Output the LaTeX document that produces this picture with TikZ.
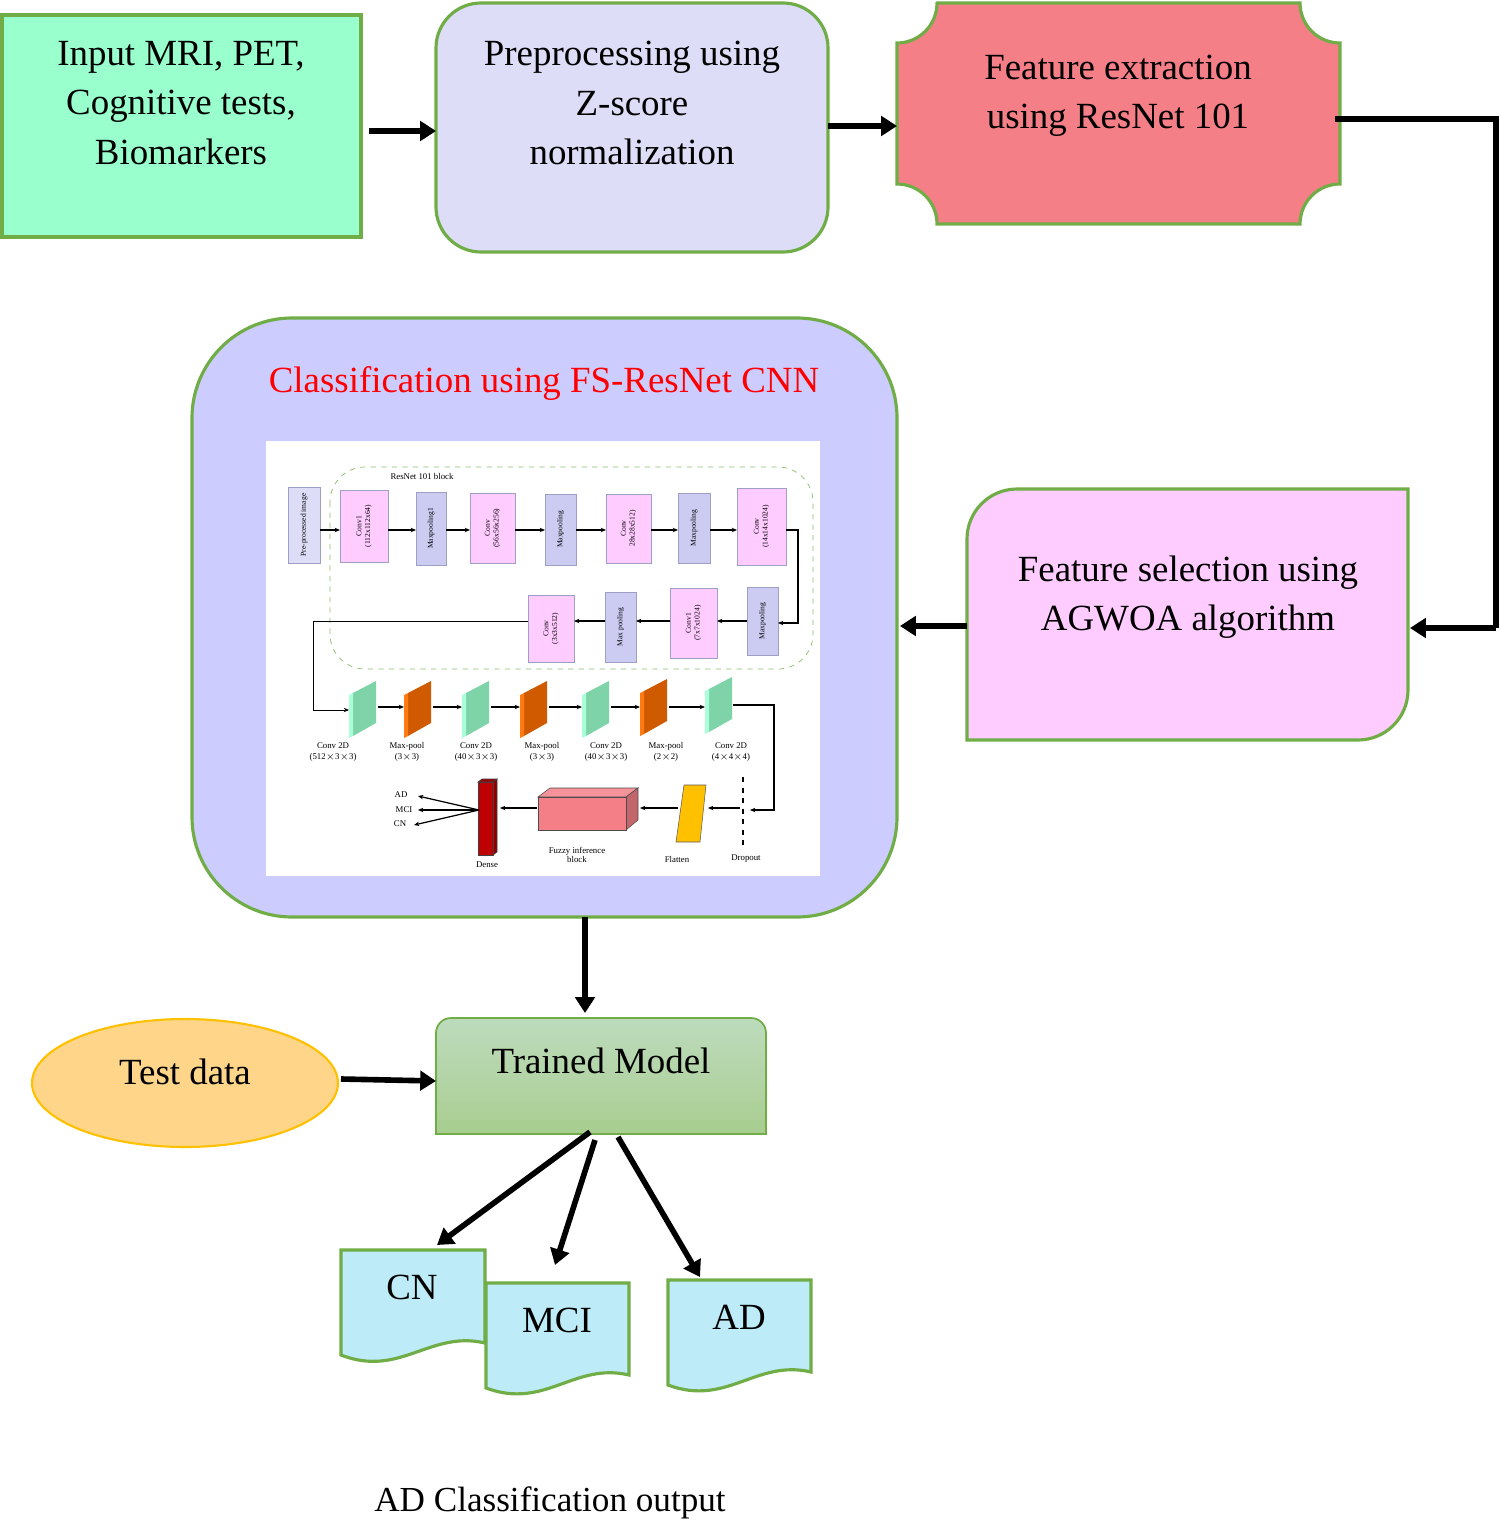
\documentclass[tikz,border=0pt]{standalone}
\usepackage{fontspec}
\setmainfont{Liberation Serif}
\usetikzlibrary{arrows.meta,shapes.geometric}
\definecolor{gb}{HTML}{70AD47}
\definecolor{inG}{HTML}{99FFCC}
\definecolor{lav}{HTML}{DDDDF7}
\definecolor{fext}{HTML}{F47F87}
\definecolor{fsel}{HTML}{FFCCFF}
\definecolor{cls}{HTML}{CCCCFF}
\definecolor{doc}{HTML}{BDEBF8}
\definecolor{ibpink}{HTML}{FFCCFF}
\definecolor{iblav}{HTML}{CCCCF2}
\definecolor{pg}{HTML}{7ED3A8}
\definecolor{pgl}{HTML}{A8FFD8}
\definecolor{po}{HTML}{D05A00}
\definecolor{pol}{HTML}{FF7A10}
\definecolor{tst}{HTML}{FFD58A}
\definecolor{tstb}{HTML}{FFC000}
\tikzset{
 big/.style={draw=gb,line width=1.8pt},
 flow/.style={line width=3.2pt,-{Triangle[length=9pt,width=11pt]}},
 thin/.style={line width=0.7pt,-{Stealth[length=3pt,width=2.5pt]}},
 T/.style={font=\fontsize{21}{28}\selectfont,align=center},
 tiny/.style={font=\fontsize{4.3}{5}\selectfont,align=center},
}
\newcommand{\ibx}[7]{\fill[#6,draw=blue!25!gray!60,line width=0.4pt] (#2,#3) rectangle (#4,#5);
 \node[tiny,rotate=90] (#1) at ({(#2+#4)/2},{(#3+#5)/2}) {#7};}
\newcommand{\mypanel}[5]{% name, x, ytop, main, light
 \fill[#4] (#2+4,#3+12) -- (#2+27,#3) -- (#2+27,#3+42) -- (#2+4,#3+55) -- cycle;
 \fill[#5] (#2,#3+14) -- (#2+4,#3+12) -- (#2+4,#3+55) -- (#2,#3+57) -- cycle;}
\begin{document}
\begin{tikzpicture}[x=0.02cm,y=-0.02cm]
\useasboundingbox (0,0) rectangle (1500,1524);
% input
\draw[big,fill=inG] (2,15) rectangle (361,237);
\node[T] (inp) at (181,103) {Input MRI, PET,\\Cognitive tests,\\Biomarkers};
% preprocessing
\draw[big,fill=lav,rounded corners=0.9cm] (436,3) rectangle (828,252);
\node[T] (pre) at (632,103) {Preprocessing using\\Z-score\\normalization};
% feature extraction
\draw[big,fill=fext] (937,3) -- (1300,3) arc[start angle=180,end angle=270,radius=0.8cm]
 -- (1340,184) arc[start angle=90,end angle=180,radius=0.8cm]
 -- (937,224) arc[start angle=0,end angle=90,radius=0.8cm]
 -- (897,43) arc[start angle=270,end angle=360,radius=0.8cm] -- cycle;
\node[T] (fex) at (1118,96) {Feature extraction\\using ResNet 101};
% feature selection
\draw[big,fill=fsel] (967,740) -- (967,539) arc[start angle=180,end angle=90,radius=1cm]
 -- (1408,489) -- (1408,690) arc[start angle=0,end angle=-90,radius=1cm] -- cycle;
\node[T] (fsl) at (1188,597) {Feature selection using\\AGWOA algorithm};
% classification
\draw[big,fill=cls,rounded corners=2cm] (192,318) rectangle (897,917);
\node[font=\fontsize{21}{24}\selectfont,text=red] (ctt) at (544,383) {Classification using FS-ResNet CNN};
\fill[white] (266,441) rectangle (820,876);
% main arrows
\coordinate (a1) at (369,131); \coordinate (a2) at (436,131);
\coordinate (b1) at (828,126); \coordinate (b2) at (897,126);
\coordinate (c1) at (1335,119); \coordinate (c2) at (1496,119); \coordinate (c3) at (1496,628); \coordinate (c4) at (1410,628);
\coordinate (d1) at (967,626); \coordinate (d2) at (900,626);
\coordinate (e1) at (585,917); \coordinate (e2) at (585,1013);
\draw[flow] (a1) -- (a2);
\draw[flow] (b1) -- (b2);
\draw[flow,-] (c1) -- (c2) -- (c3);
\draw[flow] (c3) -- (c4);
\draw[flow] (d1) -- (d2);
\draw[flow] (e1) -- (e2);
% ===== inner diagram
\draw[gb!80,dashed,line width=0.4pt,rounded corners=0.7cm] (330,467) rectangle (813,669);
\node[tiny,font=\fontsize{5}{6}\selectfont] (rb) at (422,476) {ResNet 101 block};
\ibx{i0}{288}{487}{320}{563}{lav}{Pre-processed image}
\ibx{i1}{340}{490}{388}{562}{ibpink}{Conv1\\(112x112x64)}
\ibx{i2}{416}{492}{446}{565}{iblav}{Maxpooling1}
\ibx{i3}{470}{493}{515}{563}{ibpink}{Conv\\(56x56x256)}
\ibx{i4}{545}{494}{576}{565}{iblav}{Maxpooling}
\ibx{i5}{606}{494}{651}{563}{ibpink}{Conv\\28x28x512)}
\ibx{i6}{678}{493}{710}{563}{iblav}{Maxpooling}
\ibx{i7}{737}{488}{786}{565}{ibpink}{Conv\\(14x14x1024)}
\ibx{i8}{747}{587}{778}{655}{iblav}{Maxpooling}
\ibx{i9}{670}{588}{717}{658}{ibpink}{Conv1\\(7x7x1024)}
\ibx{i10}{605}{592}{636}{662}{iblav}{Max pooling}
\ibx{i11}{528}{595}{574}{662}{ibpink}{Conv\\(3x3x512)}
\draw[thin] (320,530) -- (340,530);
\draw[thin] (388,530) -- (416,530);
\draw[thin] (446,530) -- (470,530);
\draw[thin] (515,530) -- (545,530);
\draw[thin] (576,530) -- (606,530);
\draw[thin] (651,530) -- (678,530);
\draw[thin] (710,530) -- (737,530);
\draw[thin] (786,530) -- (798,530) -- (798,623) -- (778,623);
\draw[thin] (747,621) -- (717,621);
\draw[thin] (670,621) -- (636,621);
\draw[thin] (605,621) -- (574,621);
% panels
\mypanel{p1}{349}{681}{pg}{pgl}
\mypanel{p2}{404}{681}{po}{pol}
\mypanel{p3}{462}{681}{pg}{pgl}
\mypanel{p4}{520}{681}{po}{pol}
\mypanel{p5}{582}{681}{pg}{pgl}
\mypanel{p6}{640}{679}{po}{pol}
\mypanel{p7}{705}{677}{pg}{pgl}
\draw[line width=0.5pt,-{Stealth[length=3pt,width=2.5pt]}] (528,621) -- (313,621) -- (313,710) -- (349,710);
\draw[thin] (378,707) -- (404,707);
\draw[thin] (433,707) -- (462,707);
\draw[thin] (491,707) -- (520,707);
\draw[thin] (549,707) -- (582,707);
\draw[thin] (611,707) -- (640,707);
\draw[thin] (669,707) -- (705,707);
\draw[thin] (733,705) -- (774,705) -- (774,810) -- (750,810);
\foreach \x/\a/\b in {333/Conv 2D/(512$\times$3$\times$3),407/Max-pool/(3$\times$3),476/Conv 2D/(40$\times$3$\times$3),542/Max-pool/(3$\times$3),606/Conv 2D/(40$\times$3$\times$3),666/Max-pool/(2$\times$2),731/Conv 2D/(4$\times$4$\times$4)}
 \node[tiny,font=\fontsize{5}{6.3}\selectfont] at (\x,752) {\a\\\b};
% dropout
\draw[dashed,line width=0.6pt] (743,777) -- (743,845);
\node[tiny,font=\fontsize{5}{6}\selectfont] (dro) at (746,859) {Dropout};
% flatten
\draw[fill=tstb,draw=gray!70!black,line width=0.3pt] (684,785) -- (706,785) -- (700,842) -- (676,842) -- cycle;
\node[tiny,font=\fontsize{5}{6}\selectfont] (fla) at (677,859) {Flatten};
\draw[thin] (740,808) -- (708,808);
\draw[thin] (678,808) -- (640,808);
% fuzzy
\draw[fill=fext!85!white,draw=gray!60!black,line width=0.3pt] (538,797) -- (550,788) -- (638,788) -- (626,797) -- cycle;
\draw[fill=fext!80!black,draw=gray!60!black,line width=0.3pt] (626,797) -- (638,788) -- (638,820) -- (626,830) -- cycle;
\draw[fill=fext,draw=gray!60!black,line width=0.3pt] (538,797) rectangle (626,830);
\node[tiny,font=\fontsize{5}{5.5}\selectfont] (fuz) at (577,855) {Fuzzy inference\\block};
\draw[thin] (537,808) -- (500,808);
% dense
\draw[fill=red!60!black,draw=gray!50!black,line width=0.3pt] (478,782) -- (482,779) -- (497,779) -- (493,782) -- cycle;
\draw[fill=red!55!black,draw=gray!50!black,line width=0.3pt] (493,782) -- (497,779) -- (497,852) -- (493,855) -- cycle;
\draw[fill=red!75!black,draw=gray!50!black,line width=0.3pt] (478,782) rectangle (493,855);
\node[tiny,font=\fontsize{5}{6}\selectfont] (den) at (487,865) {Dense};
\node[tiny,font=\fontsize{5}{6}\selectfont] (oad) at (401,795) {AD};
\node[tiny,font=\fontsize{5}{6}\selectfont] (omc) at (404,810) {MCI};
\node[tiny,font=\fontsize{5}{6}\selectfont] (ocn) at (400,824) {CN};
\coordinate (dd) at (479,810);
\draw[thin] (dd) -- (418,796);
\draw[thin] (dd) -- (418,810);
\draw[thin] (dd) -- (414,825);
% ===== bottom
\draw[draw=gb,line width=1pt,top color=green!30!gray!40!white,bottom color=gb!60!white,rounded corners=0.3cm] (436,1134) -- (436,1018) -- (766,1018) [sharp corners]-- (766,1134) -- cycle;
\fill[gb!60!white] (437.5,1120) rectangle (764.5,1133);
\draw[gb,line width=1pt] (436,1134) -- (766,1134);
\node[T] (trm) at (601,1061) {Trained Model};
\draw[fill=tst,draw=tstb,line width=1.2pt] (185,1083) ellipse[x radius=3.06cm,y radius=1.28cm];
\node[T] (tst) at (185,1072) {Test data};
\coordinate (f1) at (341,1079); \coordinate (f2) at (436,1081);
\draw[flow] (f1) -- (f2);
\coordinate (g0) at (590,1132); \coordinate (g1) at (437,1245);
\coordinate (h0) at (595,1140); \coordinate (h1) at (555,1265);
\coordinate (k0) at (618,1137); \coordinate (k1) at (700,1277);
\draw[flow] (g0) -- (g1);
\draw[flow] (h0) -- (h1);
\draw[flow] (k0) -- (k1);
\draw[big,fill=doc] (341,1250) -- (485,1250) -- (485,1343) .. controls (430,1330) and (400,1378) .. (341,1355) -- cycle;
\node[T] (dcn) at (412,1287) {CN};
\draw[big,fill=doc] (486,1283) -- (629,1283) -- (629,1375) .. controls (574,1362) and (545,1410) .. (486,1388) -- cycle;
\node[T] (dmc) at (557,1320) {MCI};
\draw[big,fill=doc] (668,1280) -- (811,1280) -- (811,1372) .. controls (756,1359) and (727,1407) .. (668,1385) -- cycle;
\node[T] (dad) at (739,1317) {AD};
\node[font=\fontsize{20}{22}\selectfont] (cap) at (550,1503) {AD Classification output};
\end{tikzpicture}
\end{document}
